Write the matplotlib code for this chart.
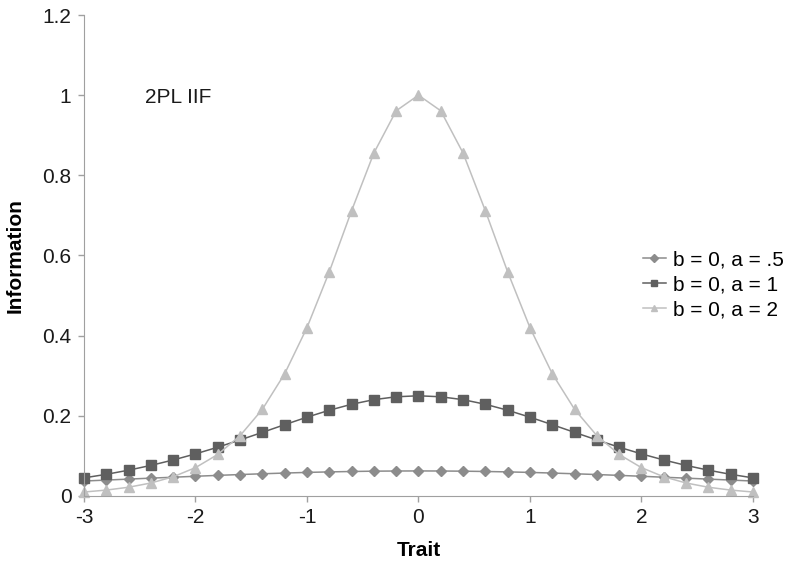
import numpy as np
import matplotlib.pyplot as plt

plt.rcParams['font.family'] = ['Liberation Sans', 'DejaVu Sans']
plt.rcParams['axes.unicode_minus'] = False

# trait values (-3 .. 3 in 0.2 steps)
trait = [-3.0, -2.8, -2.6, -2.4, -2.2, -2.0, -1.8, -1.6, -1.4, -1.2, -1.0,
         -0.8, -0.6, -0.4, -0.2, 0.0, 0.2, 0.4, 0.6, 0.8, 1.0,
         1.2, 1.4, 1.6, 1.8, 2.0, 2.2, 2.4, 2.6, 2.8, 3.0]

half_a05 = [0.0373, 0.0397, 0.0421, 0.0445, 0.0468, 0.0492, 0.0514, 0.0535,
            0.0554, 0.0572, 0.0588, 0.0601, 0.0611, 0.0619, 0.0623]
half_a1 = [0.0452, 0.0540, 0.0644, 0.0763, 0.0898, 0.1050, 0.1217, 0.1398,
           0.1587, 0.1779, 0.1966, 0.2139, 0.2288, 0.2403, 0.2475]
half_a2 = [0.0099, 0.0147, 0.0218, 0.0324, 0.0479, 0.0707, 0.1036, 0.1505,
           0.2162, 0.3050, 0.4200, 0.5591, 0.7116, 0.8556, 0.9610]

info_a05 = half_a05 + [0.0625] + half_a05[::-1]
info_a1 = half_a1 + [0.25] + half_a1[::-1]
info_a2 = half_a2 + [1.0] + half_a2[::-1]

labels = ['b = 0, a = .5', 'b = 0, a = 1', 'b = 0, a = 2']

fig = plt.figure(figsize=(7.9, 5.64), dpi=100)
ax = fig.add_axes([0.1063, 0.1206, 0.8468, 0.8528])

ax.plot(trait, info_a05, color='#8c8c8c', lw=1.1, marker='D', ms=5.5,
        label=labels[0])
ax.plot(trait, info_a1, color='#5f5f5f', lw=1.1, marker='s', ms=6.5,
        label=labels[1])
ax.plot(trait, info_a2, color='#c0c0c0', lw=1.1, marker='^', ms=7,
        label=labels[2])

ax.set_xlim(-3, 3)
ax.set_ylim(0, 1.2)
ax.set_xticks([-3, -2, -1, 0, 1, 2, 3])
ax.set_yticks([0, 0.2, 0.4, 0.6, 0.8, 1.0, 1.2])
ax.set_yticklabels(['0', '0.2', '0.4', '0.6', '0.8', '1', '1.2'])
ax.tick_params(labelsize=15, length=4, width=1, color='#a0a0a0',
               labelcolor='#1a1a1a', pad=5)
for side in ['top', 'right']:
    ax.spines[side].set_visible(False)
for side in ['left', 'bottom']:
    ax.spines[side].set_color('#a0a0a0')
for ln in ax.lines:
    ln.set_clip_on(False)

ax.set_xlabel('Trait', fontsize=15, fontweight='bold', labelpad=10)
ax.set_ylabel('Information', fontsize=15, fontweight='bold', labelpad=13)

ax.text(-2.45, 0.993, '2PL IIF', fontsize=15, va='center', ha='left',
        color='#1a1a1a')

ax.legend(loc='center left', bbox_to_anchor=(0.8356, 0.4387), frameon=False,
          fontsize=15, handlelength=1.1, handletextpad=0.35, labelspacing=0.3,
          borderpad=0, borderaxespad=0, markerscale=0.7)

fig.savefig('out.png', dpi=100)
